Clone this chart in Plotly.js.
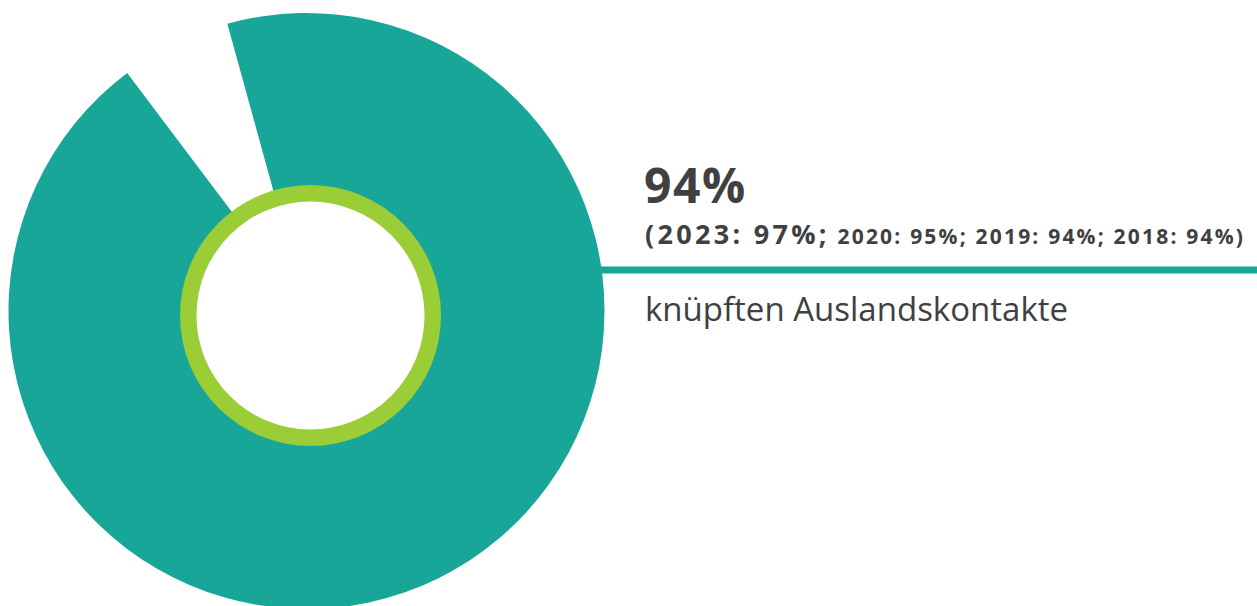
<!DOCTYPE html>
<html>
<head>
<meta charset="utf-8">
<script src="https://cdn.plot.ly/plotly-3.0.1.min.js"></script>
<style>
  html, body { margin: 0; padding: 0; overflow: hidden; background: #ffffff; }
  #chart { width: 1257px; height: 630px; }
</style>
</head>
<body>
<div id="chart"></div>
<script>
// ---- data ----
var categories = ['knüpften Auslandskontakte', 'keine Auslandskontakte'];
var shares = [94, 6];
var historyYears = ['2023', '2020', '2019', '2018'];
var historyValues = [97, 95, 94, 94];
var ringValues = [1];
var label = 'knüpften Auslandskontakte';

// ---- layout helpers (pixel -> paper) ----
var W = 1257, H = 630;
function px(x) { return x / W; }
function py(y) { return 1 - y / H; }

var teal = '#17a698';
var green = '#9acd36';
var textCol = '#404040';

var donut = {
  type: 'pie',
  labels: categories,
  values: shares,
  sort: false,
  direction: 'clockwise',
  rotation: -15.4,
  hole: 122 / 298,
  textinfo: 'none',
  hoverinfo: 'none',
  marker: { colors: [teal, 'rgba(0,0,0,0)'], line: { width: 0 } },
  domain: { x: [px(8.5), px(604.5)], y: [py(609), py(13)] },
  showlegend: false
};

var ring = {
  type: 'pie',
  labels: ['ring'],
  values: ringValues,
  sort: false,
  hole: 114 / 130.5,
  textinfo: 'none',
  hoverinfo: 'none',
  marker: { colors: [green], line: { width: 0 } },
  domain: { x: [px(180), px(441)], y: [py(446), py(185)] },
  showlegend: false
};

var bigPart = '(' + historyYears[0] + ': ' + historyValues[0] + '%;';
var smallParts = [];
for (var i = 1; i < historyYears.length; i++) {
  smallParts.push(historyYears[i] + ': ' + historyValues[i] + '%');
}
var smallPart = ' ' + smallParts.join('; ') + ')';

var layout = {
  width: W,
  height: H,
  margin: { l: 0, r: 0, t: 0, b: 0, pad: 0 },
  paper_bgcolor: '#ffffff',
  plot_bgcolor: '#ffffff',
  showlegend: false,
  shapes: [{
    type: 'rect', xref: 'paper', yref: 'paper',
    x0: px(601), x1: 1, y0: py(273.5), y1: py(266.5),
    fillcolor: teal, line: { width: 0 }, layer: 'below'
  }],
  annotations: [
    {
      xref: 'paper', yref: 'paper', x: px(642), y: py(184.4),
      xanchor: 'left', yanchor: 'middle', showarrow: false,
      text: '<b><span style="letter-spacing:1.5px">' + shares[0] + '%</span></b>',
      font: { family: 'Open Sans', size: 48, color: textCol }
    },
    {
      xref: 'paper', yref: 'paper', x: px(642.5), y: py(233.3),
      xanchor: 'left', yanchor: 'middle', showarrow: false,
      text: '<b><span style="letter-spacing:3.3px">' + bigPart + '</span>' +
            '<span style="font-size:21px;letter-spacing:2.2px">' + smallPart + '</span></b>',
      font: { family: 'Open Sans', size: 27, color: textCol }
    },
    {
      xref: 'paper', yref: 'paper', x: px(643), y: py(308.9),
      xanchor: 'left', yanchor: 'middle', showarrow: false,
      text: label,
      font: { family: 'Open Sans', size: 33, color: textCol }
    }
  ]
};

Plotly.newPlot('chart', [donut, ring], layout, { displayModeBar: false, staticPlot: true });
</script>
</body>
</html>
